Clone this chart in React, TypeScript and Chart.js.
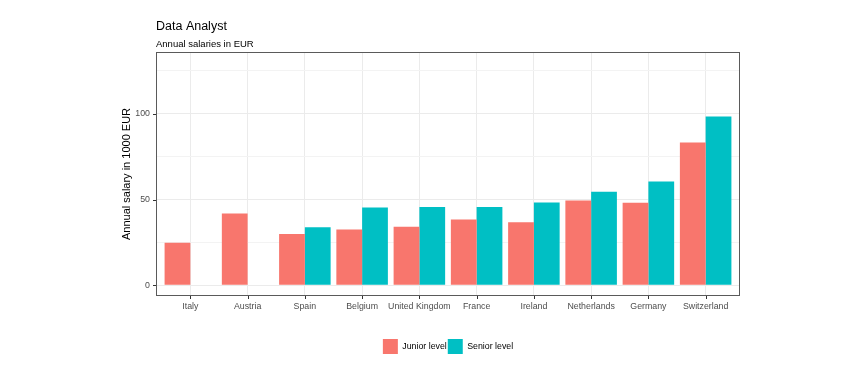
import React, { useEffect, useRef } from "react";
import { Chart, registerables } from "chart.js";

Chart.register(...registerables);

const categories = [
  "Italy",
  "Austria",
  "Spain",
  "Belgium",
  "United Kingdom",
  "France",
  "Ireland",
  "Netherlands",
  "Germany",
  "Switzerland",
];
const juniorSalary = [24.8, 41.9, 30.0, 32.5, 34.1, 38.4, 36.8, 49.5, 48.1, 83.3];
const seniorSalary = [null, null, 33.9, 45.4, 45.6, 45.6, 48.3, 54.5, 60.5, 98.4];
const yTickValues = [0, 25, 50, 75, 100, 125];
const yLabelledTicks = [0, 50, 100];
const seriesNames = ["Junior level", "Senior level"];
const seriesColors = ["#F8766D", "#00BFC4"];

const FONT = "'Liberation Sans', Arial, Helvetica, sans-serif";

const panelBorder = {
  id: "panelBorder",
  afterDraw(chart: any) {
    const { ctx, chartArea, scales } = chart;
    const { left, top, right, bottom } = chartArea;
    ctx.save();
    ctx.strokeStyle = "#5a5a5a";
    ctx.lineWidth = 1;
    ctx.strokeRect(
      Math.round(left) + 0.5,
      Math.round(top) + 0.5,
      Math.round(right - left) - 1,
      Math.round(bottom - top) - 1
    );
    // axis tick marks
    ctx.strokeStyle = "#333333";
    ctx.beginPath();
    categories.forEach((_, i) => {
      const px = Math.round(scales.x.getPixelForValue(i)) + 0.5;
      ctx.moveTo(px, Math.round(bottom));
      ctx.lineTo(px, Math.round(bottom) + 3);
    });
    yLabelledTicks.forEach((v) => {
      const py = Math.round(scales.y.getPixelForValue(v)) + 0.5;
      ctx.moveTo(Math.round(left) - 3, py);
      ctx.lineTo(Math.round(left), py);
    });
    ctx.stroke();
    ctx.restore();
  },
};

export default function App() {
  const canvasRef = useRef<HTMLCanvasElement | null>(null);

  useEffect(() => {
    const canvas = canvasRef.current;
    if (!canvas) return;
    const toPoints = (arr: (number | null)[]) =>
      arr.map((v, i) => ({ x: i, y: v }));

    const chart = new Chart(canvas, {
      type: "bar",
      data: {
        datasets: [
          {
            label: seriesNames[0],
            data: toPoints(juniorSalary) as any,
            backgroundColor: seriesColors[0],
            borderWidth: 0,
            categoryPercentage: 0.9,
            barPercentage: 1.0,
          },
          {
            label: seriesNames[1],
            data: toPoints(seniorSalary) as any,
            backgroundColor: seriesColors[1],
            borderWidth: 0,
            categoryPercentage: 0.9,
            barPercentage: 1.0,
          },
        ],
      },
      options: {
        responsive: false,
        animation: false,
        devicePixelRatio: 1,
        layout: { padding: { left: 113, right: 125, top: 0, bottom: 11 } },
        plugins: {
          tooltip: { enabled: false },
          title: {
            display: true,
            text: "Data Analyst",
            align: "start",
            fullSize: false,
            color: "#000000",
            font: { family: FONT, size: 12.5, weight: "normal", lineHeight: "15px" },
            padding: { top: 19, bottom: 3 },
          },
          subtitle: {
            display: true,
            text: "Annual salaries in EUR",
            align: "start",
            fullSize: false,
            color: "#000000",
            font: { family: FONT, size: 9.5, weight: "normal", lineHeight: "12px" },
            padding: { top: 1, bottom: 2 },
          },
          legend: {
            display: true,
            position: "bottom",
            fullSize: false,
            labels: {
              boxWidth: 15,
              boxHeight: 15,
              padding: 1,
              color: "#000000",
              font: { family: FONT, size: 8.8 },
            },
          },
        },
        scales: {
          x: {
            type: "linear",
            offset: false,
            min: -0.6,
            max: 9.6,
            afterBuildTicks: (scale: any) => {
              scale.ticks = categories.map((_, i) => ({ value: i }));
            },
            afterFit: (scale: any) => {
              scale.height = 42;
            },
            ticks: {
              autoSkip: false,
              maxRotation: 0,
              minRotation: 0,
              padding: 2,
              color: "#4D4D4D",
              font: { family: FONT, size: 8.8 },
              callback: (v: any) => categories[Math.round(Number(v))] ?? "",
            },
            grid: {
              offset: false,
              color: "#EBEBEB",
              lineWidth: 1,
              drawTicks: true,
              tickLength: 3,
              tickColor: "rgba(0,0,0,0)",
            },
            border: { display: false },
          },
          y: {
            type: "linear",
            min: -6.2,
            max: 136,
            afterBuildTicks: (scale: any) => {
              scale.ticks = yTickValues.map((v) => ({ value: v }));
            },
            afterFit: (scale: any) => {
              scale.width = 43;
            },
            ticks: {
              padding: 3,
              color: "#4D4D4D",
              font: { family: FONT, size: 8.8 },
              callback: (v: any) =>
                yLabelledTicks.includes(Number(v)) ? String(v) : "",
            },
            grid: {
              color: (ctx: any) =>
                ctx.tick && yLabelledTicks.includes(ctx.tick.value)
                  ? "#EBEBEB"
                  : "#F3F3F3",
              lineWidth: 1,
              drawTicks: true,
              tickLength: 3,
              tickColor: "rgba(0,0,0,0)",
            },
            border: { display: false },
            title: {
              display: true,
              text: "Annual salary in 1000 EUR",
              color: "#000000",
              font: { family: FONT, size: 11, lineHeight: 1.2 },
              padding: { top: 7, bottom: 0 },
            },
          },
        },
      },
      plugins: [panelBorder],
    } as any);

    return () => {
      chart.destroy();
    };
  }, []);

  return (
    <div
      style={{
        position: "fixed",
        left: 0,
        top: 0,
        width: 865,
        height: 375,
        background: "#ffffff",
      }}
    >
      <canvas ref={canvasRef} width={865} height={375} />
    </div>
  );
}
